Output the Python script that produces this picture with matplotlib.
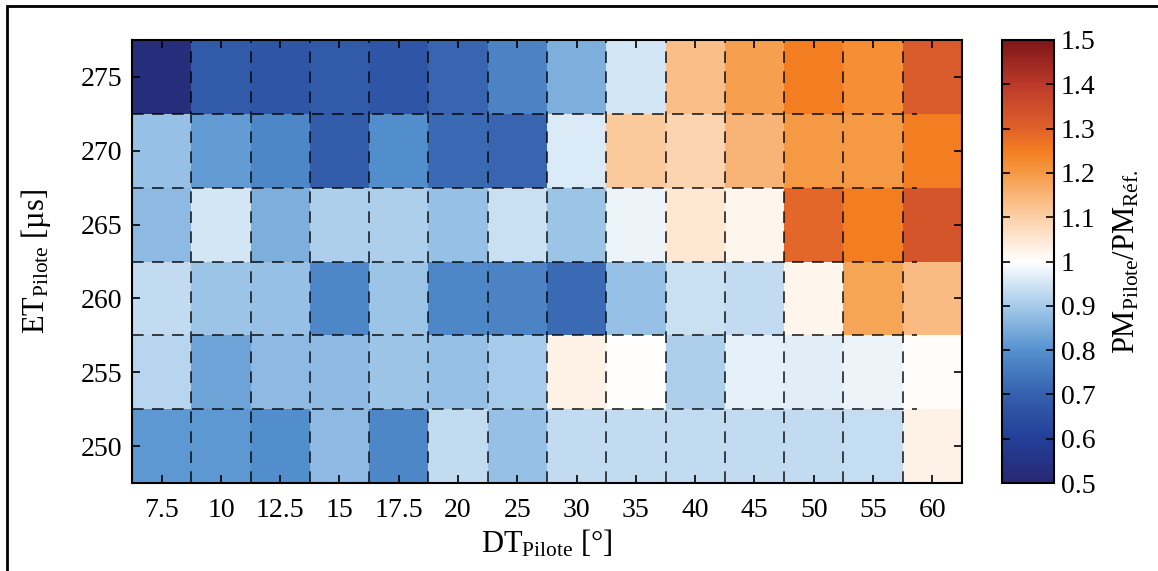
import matplotlib.pyplot as plt
import numpy as np
from matplotlib.colors import LinearSegmentedColormap
from matplotlib.patches import Rectangle

plt.rcParams['font.family'] = 'Liberation Serif'
plt.rcParams['mathtext.fontset'] = 'custom'
plt.rcParams['mathtext.rm'] = 'Liberation Serif'
plt.rcParams['mathtext.it'] = 'Liberation Serif:italic'

dt_pilote = ["7.5", "10", "12.5", "15", "17.5", "20", "25", "30", "35", "40", "45", "50", "55", "60"]
et_pilote = [250, 255, 260, 265, 270, 275]

# PM ratio, one row per ET value (250 -> 275)
pm_250 = [0.81, 0.81, 0.79, 0.87, 0.78, 0.93, 0.88, 0.93, 0.93, 0.93, 0.93, 0.93, 0.935, 1.03]
pm_255 = [0.92, 0.83, 0.87, 0.87, 0.89, 0.88, 0.90, 1.03, 1.00, 0.91, 0.97, 0.965, 0.98, 1.005]
pm_260 = [0.93, 0.89, 0.88, 0.78, 0.89, 0.78, 0.77, 0.72, 0.88, 0.94, 0.93, 1.02, 1.18, 1.14]
pm_265 = [0.87, 0.95, 0.85, 0.91, 0.91, 0.88, 0.94, 0.89, 0.98, 1.05, 1.02, 1.29, 1.25, 1.33]
pm_270 = [0.88, 0.82, 0.78, 0.69, 0.79, 0.72, 0.71, 0.96, 1.11, 1.09, 1.15, 1.20, 1.20, 1.25]
pm_275 = [0.52, 0.68, 0.67, 0.68, 0.67, 0.71, 0.77, 0.85, 0.95, 1.13, 1.19, 1.25, 1.22, 1.32]

pm = np.array([pm_250, pm_255, pm_260, pm_265, pm_270, pm_275])

cmap = LinearSegmentedColormap.from_list("pm", [
    (0.00, "#272874"),
    (0.10, "#233f98"),
    (0.20, "#3560ad"),
    (0.30, "#5592cf"),
    (0.40, "#a6cbea"),
    (0.50, "#ffffff"),
    (0.60, "#fcd0a8"),
    (0.70, "#f59a45"),
    (0.75, "#f47f20"),
    (0.80, "#e0622a"),
    (0.90, "#bb3a2b"),
    (1.00, "#7f1518"),
])

fig = plt.figure(figsize=(11.58, 5.71), dpi=100)
ax = fig.add_axes([0.114, 0.154, 0.7167, 0.776])
cax = fig.add_axes([0.8653, 0.154, 0.0449, 0.776])

nx, ny = len(dt_pilote), len(et_pilote)
mesh = ax.pcolormesh(np.arange(nx + 1) - 0.5, np.arange(ny + 1) - 0.5, pm,
                     cmap=cmap, vmin=0.5, vmax=1.5)

ax.set_xticks(np.arange(nx))
ax.set_xticklabels(dt_pilote)
ax.set_yticks(np.arange(ny))
ax.set_yticklabels([str(v) for v in et_pilote])
ax.set_xlim(-0.5, nx - 0.5)
ax.set_ylim(-0.5, ny - 0.5)

# dashed lines on the cell borders
dash = (0, (7, 5))
ax.vlines(np.arange(nx - 1) + 0.5, -0.5, ny - 0.5, color='k', lw=1.2,
          linestyles=[dash], alpha=0.85)
ax.hlines(np.arange(ny - 1) + 0.5, -0.5, nx - 1.25, color='k', lw=1.2,
          linestyles=[dash], alpha=0.85)

ax.tick_params(direction='in', length=6, width=1.2, top=True, right=True,
               labelsize=20)
ax.tick_params(axis='x', pad=11)
ax.tick_params(axis='y', pad=7)
for s in ax.spines.values():
    s.set_linewidth(1.5)

ax.set_xlabel(r'$\mathrm{DT_{Pilote}}$ [°]', fontsize=22, labelpad=3)
ax.set_ylabel(r'$\mathrm{ET_{Pilote}}$ [µs]', fontsize=22, labelpad=20)

cb = fig.colorbar(mesh, cax=cax, ticks=np.arange(0.5, 1.51, 0.1))
cb.ax.set_yticklabels(['0.5', '0.6', '0.7', '0.8', '0.9', '1', '1.1', '1.2', '1.3', '1.4', '1.5'])
cb.ax.tick_params(direction='in', length=6, width=1.2, left=True, right=True,
                  labelsize=20, pad=5)
cb.outline.set_linewidth(1.5)
cb.set_label(r'$\mathrm{PM_{Pilote}/PM_{Réf.}}$', fontsize=22, labelpad=12)

# frame around the figure
fig.add_artist(Rectangle((7 / 1158, -0.2), 1.2, 0.2 + (1 - 6 / 571),
                         transform=fig.transFigure, fill=False, lw=2, ec='k'))

fig.savefig('out.png', dpi=100)
